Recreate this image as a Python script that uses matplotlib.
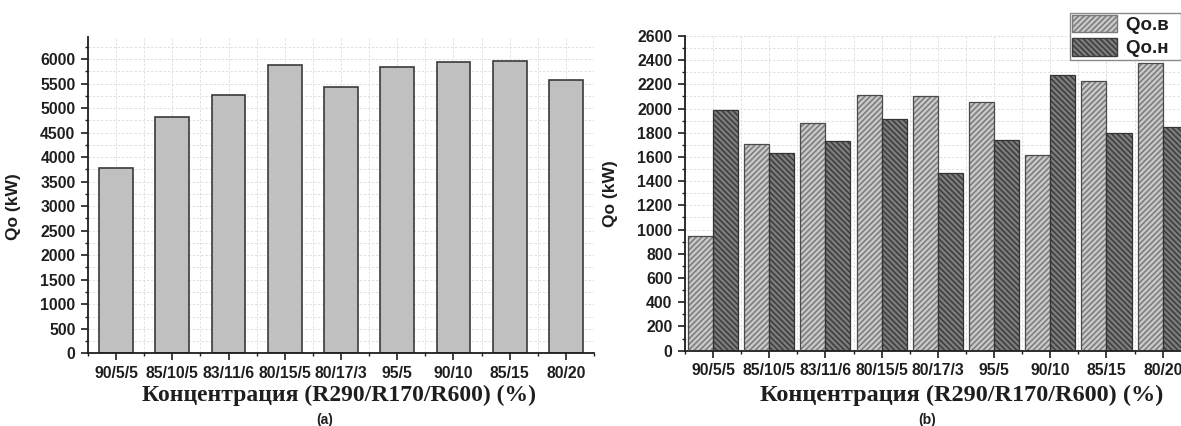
"""Two bar charts of Qo (kW) against mixture concentration R290/R170/R600."""
import matplotlib
matplotlib.use("Agg")
import matplotlib.pyplot as plt
import numpy as np
from matplotlib.patches import Patch
from matplotlib.ticker import MultipleLocator

OUT = "out.png"

concentrations = ["90/5/5", "85/10/5", "83/11/6", "80/15/5", "80/17/3",
                  "95/5", "90/10", "85/15", "80/20"]
qo_total = [3770, 4810, 5260, 5880, 5440, 5840, 5940, 5970, 5570]
qo_v = [945, 1705, 1880, 2115, 2100, 2050, 1615, 2225, 2375]
qo_n = [1985, 1635, 1735, 1910, 1470, 1740, 2280, 1795, 1850]

XLABEL = "Концентрация (R290/R170/R600) (%)"
INK = "#1e1e1e"
SANS = "Liberation Sans"
SERIF = "Liberation Serif"


def style_axes(ax):
    for side in ("top", "right"):
        ax.spines[side].set_visible(False)
    for side in ("left", "bottom"):
        ax.spines[side].set_linewidth(1.3)
        ax.spines[side].set_color(INK)
    ax.tick_params(which="major", direction="out", length=5, width=1.2,
                   color=INK, labelsize=11.3, pad=4)
    ax.tick_params(which="minor", direction="out", length=2.5, width=1.0,
                   color=INK)
    for lab in ax.get_xticklabels() + ax.get_yticklabels():
        lab.set_fontweight("bold")
        lab.set_family(SANS)
        lab.set_color(INK)
    ax.grid(which="both", color="#dcdcdc", linestyle=(0, (3, 2)),
            linewidth=0.6)
    ax.set_axisbelow(True)


def main() -> None:
    plt.rcParams["hatch.linewidth"] = 1.1
    fig = plt.figure(figsize=(11.81, 4.26), dpi=100)
    x = np.arange(1, len(concentrations) + 1)

    # (a) total cooling capacity
    ax1 = fig.add_axes([0.0745, 0.1707, 0.4285, 0.7425])
    ax1.bar(x, qo_total, width=0.6, color="#c0c0c0", edgecolor="#3a3a3a",
            linewidth=1.2, zorder=2)
    ax1.set_xlim(0.5, 9.5)
    ax1.set_ylim(0, 6450)
    ax1.set_xticks(x)
    ax1.set_xticklabels(concentrations)
    ax1.xaxis.set_minor_locator(MultipleLocator(1, offset=0.5))
    ax1.yaxis.set_major_locator(MultipleLocator(500))
    ax1.yaxis.set_minor_locator(MultipleLocator(250))
    style_axes(ax1)
    ax1.set_ylabel("Qo (kW)", fontsize=12.5, fontweight="bold", family=SANS,
                   color=INK)
    ax1.yaxis.set_label_coords(-0.132, 0.4625)
    ax1.set_xlabel(XLABEL, fontsize=17, fontweight="bold", family=SERIF,
                   color=INK)
    ax1.xaxis.set_label_coords(0.497, -0.099)

    # (b) split into Qo.в and Qo.н
    ax2 = fig.add_axes([0.580, 0.1768, 0.4283, 0.739])
    w = 0.445
    light = dict(facecolor="#c8c8c8", edgecolor="#7a7a7a", hatch="//////")
    dark = dict(facecolor="#7c7c7c", edgecolor="#3c3c3c", hatch="\\" * 6)
    ax2.bar(x - w / 2, qo_v, width=w, linewidth=0, zorder=2, **light)
    ax2.bar(x + w / 2, qo_n, width=w, linewidth=0, zorder=2, **dark)
    ax2.bar(x - w / 2, qo_v, width=w, fill=False, edgecolor="#4a4a4a",
            linewidth=0.9, zorder=3)
    ax2.bar(x + w / 2, qo_n, width=w, fill=False, edgecolor="#333333",
            linewidth=0.9, zorder=3)
    ax2.set_xlim(0.5, 9.5)
    ax2.set_ylim(0, 2600)
    ax2.set_xticks(x)
    ax2.set_xticklabels(concentrations)
    ax2.xaxis.set_minor_locator(MultipleLocator(1, offset=0.5))
    ax2.yaxis.set_major_locator(MultipleLocator(200))
    ax2.yaxis.set_minor_locator(MultipleLocator(100))
    style_axes(ax2)
    ax2.set_ylabel("Qo (kW)", fontsize=12.5, fontweight="bold", family=SANS,
                   color=INK)
    ax2.yaxis.set_label_coords(-0.132, 0.5)
    ax2.set_xlabel(XLABEL, fontsize=17.5, fontweight="bold", family=SERIF,
                   color=INK)
    ax2.xaxis.set_label_coords(0.548, -0.107)

    handles = [Patch(label="Qo.в  ", **light), Patch(label="Qo.н  ", **dark)]
    leg = fig.legend(handles=handles, loc="upper left",
                     bbox_to_anchor=(0.906, 0.970),
                     bbox_transform=fig.transFigure, borderaxespad=0,
                     fancybox=False, edgecolor="#8a8a8a", framealpha=1,
                     handlelength=2.4, handleheight=1.05, labelspacing=0.22,
                     borderpad=0.12, handletextpad=0.45,
                     prop=dict(family=SANS, weight="bold", size=13.5))
    leg.get_frame().set_linewidth(1.0)
    for t in leg.get_texts():
        t.set_color(INK)

    fig.text(0.275, 0.014, "(a)", ha="center", va="center", fontsize=10,
             fontweight="bold", family=SANS, color=INK)
    fig.text(0.785, 0.014, "(b)", ha="center", va="center", fontsize=10,
             fontweight="bold", family=SANS, color=INK)

    fig.savefig(OUT, dpi=100)
    print(f"Wrote {OUT}")


if __name__ == "__main__":
    main()
